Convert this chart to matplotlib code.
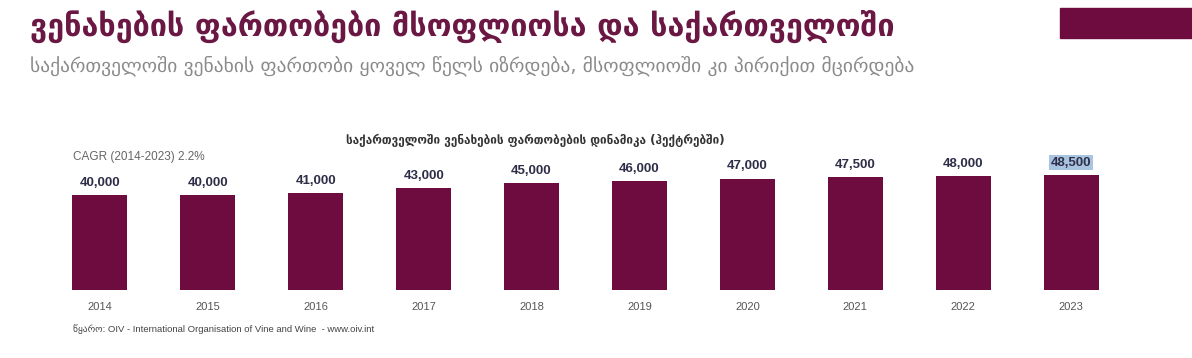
import matplotlib
matplotlib.use("Agg")
import matplotlib.pyplot as plt
from matplotlib.patches import Rectangle

years = ["2014", "2015", "2016", "2017", "2018", "2019", "2020", "2021", "2022", "2023"]
values = [40000, 40000, 41000, 43000, 45000, 46000, 47000, 47500, 48000, 48500]

title = "ვენახების ფართობები მსოფლიოსა და საქართველოში"
subtitle = "საქართველოში ვენახის ფართობი ყოველ წელს იზრდება, მსოფლიოში კი პირიქით მცირდება"
chart_title = "საქართველოში ვენახების ფართობების დინამიკა (ჰექტრებში)"
cagr = "CAGR (2014-2023) 2.2%"
source = "წყარო: OIV - International Organisation of Vine and Wine  - www.oiv.int"

plt.rcParams['font.family'] = ['DejaVu Sans']
W, H = 1192, 358
fig = plt.figure(figsize=(W / 100, H / 100), dpi=100)

wine = "#6E0C40"
lib = ['Liberation Sans', 'DejaVu Sans']

def px(x0, y0, x1, y1):
    return [x0 / W, 1 - y1 / H, (x1 - x0) / W, (y1 - y0) / H]

ax = fig.add_axes(px(46, 170, 1125, 290))
x = range(len(years))
ax.bar(x, values, width=0.51, color=wine)
ax.set_xlim(-0.5, len(years) - 0.5)
ax.set_ylim(0, 48500 * 120 / 115)
for s in ax.spines.values():
    s.set_visible(False)
ax.set_yticks([])
ax.set_xticks(list(x))
ax.set_xticklabels(years, fontsize=8, color="#555555", family=lib)
ax.tick_params(axis="x", length=0, pad=9)
for i, v in enumerate(values):
    kw = {}
    if i == len(values) - 1:
        kw = dict(bbox=dict(boxstyle="square,pad=0.1", fc="#A9C4E0", ec="none"))
    ax.annotate(f"{v:,}", (i, v), xytext=(0, 4.5), textcoords="offset points",
                ha="center", va="bottom", fontsize=9.5, fontweight="bold",
                color="#2E2E48", family=lib, **kw)

fig.text(30 / W, 1 - 26 / H, title, fontsize=22, color="#6B1743",
         va="center", ha="left", fontweight="bold")
fig.text(30 / W, 1 - 66 / H, subtitle, fontsize=14.0, color="#8A8A8A",
         va="center", ha="left")
fig.text(535 / W, 1 - 140 / H, chart_title, fontsize=8.5, color="#333333",
         va="center", ha="center", fontweight="bold")
fig.text(73 / W, 1 - 157 / H, cagr, fontsize=8.5, color="#666666",
         va="center", ha="left", family=lib)
fig.text(73 / W, 1 - 329 / H, source, fontsize=6.8, color="#444444",
         va="center", ha="left", family=lib)

fig.patches.append(Rectangle((1060 / W, 1 - 38 / H), (W - 1060) / W, 30 / H,
                             transform=fig.transFigure, color=wine))

fig.savefig("out.png", dpi=100, facecolor="white")
